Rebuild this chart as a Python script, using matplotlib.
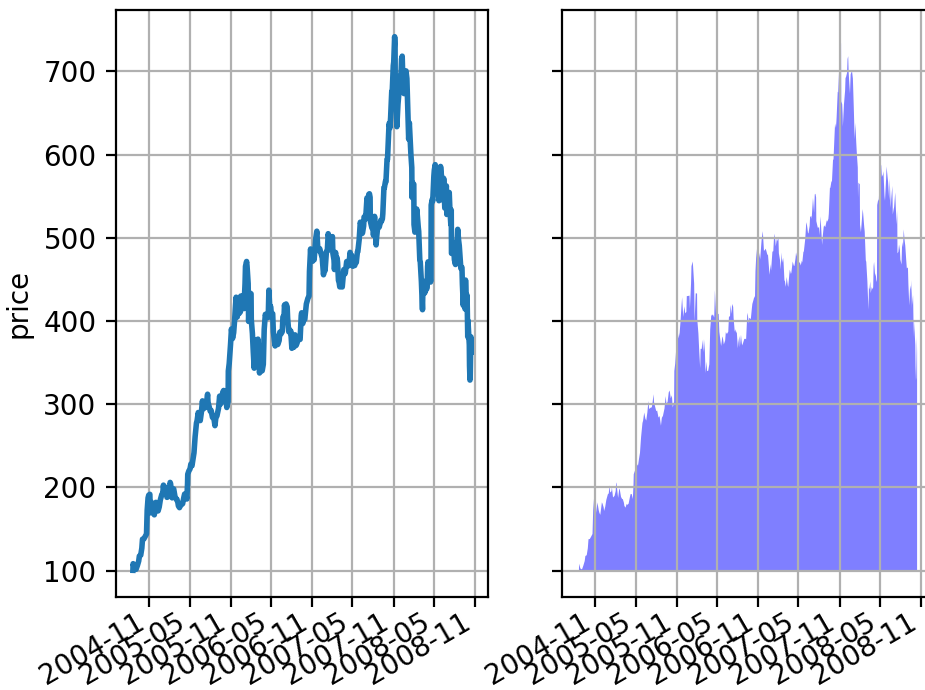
import numpy as np
import pandas as pd
import matplotlib
matplotlib.use("Agg")
from matplotlib import pyplot as plt
import matplotlib.dates as mdates

# Daily closing price (roughly twice a week)
dates = [
    "2004-08-19", "2004-08-20", "2004-08-24", "2004-08-27", "2004-09-02", "2004-09-08",
    "2004-09-14", "2004-09-17", "2004-09-23", "2004-09-28", "2004-10-01", "2004-10-07",
    "2004-10-13", "2004-10-19", "2004-10-22", "2004-10-26", "2004-10-29", "2004-11-03",
    "2004-11-05", "2004-11-10", "2004-11-16", "2004-11-19", "2004-11-23", "2004-11-30",
    "2004-12-03", "2004-12-08", "2004-12-10", "2004-12-15", "2004-12-20", "2004-12-27",
    "2004-12-31", "2005-01-03", "2005-01-06", "2005-01-12", "2005-01-14", "2005-01-19",
    "2005-01-21", "2005-01-26", "2005-01-31", "2005-02-02", "2005-02-04", "2005-02-09",
    "2005-02-11", "2005-02-16", "2005-02-18", "2005-02-24", "2005-03-01", "2005-03-04",
    "2005-03-09", "2005-03-11", "2005-03-16", "2005-03-21", "2005-03-24", "2005-03-30",
    "2005-04-05", "2005-04-08", "2005-04-13", "2005-04-18", "2005-04-21", "2005-04-22",
    "2005-04-27", "2005-05-02", "2005-05-06", "2005-05-11", "2005-05-16", "2005-05-20",
    "2005-05-25", "2005-05-31", "2005-06-03", "2005-06-08", "2005-06-13", "2005-06-17",
    "2005-06-22", "2005-06-27", "2005-06-30", "2005-07-06", "2005-07-12", "2005-07-15",
    "2005-07-20", "2005-07-22", "2005-07-27", "2005-08-01", "2005-08-05", "2005-08-11",
    "2005-08-16", "2005-08-22", "2005-08-26", "2005-08-31", "2005-09-07", "2005-09-12",
    "2005-09-16", "2005-09-21", "2005-09-26", "2005-09-30", "2005-10-05", "2005-10-10",
    "2005-10-14", "2005-10-20", "2005-10-21", "2005-10-25", "2005-10-31", "2005-11-04",
    "2005-11-09", "2005-11-14", "2005-11-18", "2005-11-22", "2005-11-25", "2005-11-30",
    "2005-12-05", "2005-12-09", "2005-12-14", "2005-12-16", "2005-12-21", "2005-12-28",
    "2005-12-30", "2006-01-04", "2006-01-06", "2006-01-11", "2006-01-13", "2006-01-18",
    "2006-01-20", "2006-01-25", "2006-01-27", "2006-01-31", "2006-02-01", "2006-02-06",
    "2006-02-10", "2006-02-14", "2006-02-16", "2006-02-21", "2006-02-24", "2006-02-28",
    "2006-03-03", "2006-03-07", "2006-03-10", "2006-03-14", "2006-03-17", "2006-03-22",
    "2006-03-27", "2006-03-31", "2006-04-05", "2006-04-07", "2006-04-12", "2006-04-18",
    "2006-04-21", "2006-04-26", "2006-04-28", "2006-05-03", "2006-05-08", "2006-05-11",
    "2006-05-16", "2006-05-19", "2006-05-24", "2006-05-26", "2006-05-31", "2006-06-06",
    "2006-06-09", "2006-06-14", "2006-06-20", "2006-06-23", "2006-06-28", "2006-06-30",
    "2006-07-05", "2006-07-07", "2006-07-12", "2006-07-14", "2006-07-19", "2006-07-21",
    "2006-07-26", "2006-07-28", "2006-08-02", "2006-08-04", "2006-08-09", "2006-08-11",
    "2006-08-16", "2006-08-21", "2006-08-25", "2006-08-31", "2006-09-06", "2006-09-08",
    "2006-09-13", "2006-09-15", "2006-09-20", "2006-09-22", "2006-09-27", "2006-09-29",
    "2006-10-04", "2006-10-06", "2006-10-11", "2006-10-13", "2006-10-18", "2006-10-20",
    "2006-10-25", "2006-10-27", "2006-10-31", "2006-11-03", "2006-11-08", "2006-11-10",
    "2006-11-15", "2006-11-17", "2006-11-22", "2006-11-27", "2006-11-30", "2006-12-05",
    "2006-12-08", "2006-12-13", "2006-12-15", "2006-12-20", "2006-12-22", "2006-12-27",
    "2006-12-29", "2007-01-04", "2007-01-08", "2007-01-12", "2007-01-17", "2007-01-19",
    "2007-01-24", "2007-01-26", "2007-01-31", "2007-02-02", "2007-02-07", "2007-02-09",
    "2007-02-14", "2007-02-16", "2007-02-21", "2007-02-23", "2007-02-27", "2007-03-01",
    "2007-03-05", "2007-03-09", "2007-03-14", "2007-03-16", "2007-03-21", "2007-03-23",
    "2007-03-28", "2007-03-30", "2007-04-05", "2007-04-10", "2007-04-13", "2007-04-18",
    "2007-04-20", "2007-04-24", "2007-04-27", "2007-05-02", "2007-05-04", "2007-05-09",
    "2007-05-11", "2007-05-16", "2007-05-18", "2007-05-23", "2007-05-25", "2007-05-31",
    "2007-06-05", "2007-06-08", "2007-06-13", "2007-06-15", "2007-06-20", "2007-06-22",
    "2007-06-27", "2007-06-29", "2007-07-05", "2007-07-10", "2007-07-13", "2007-07-16",
    "2007-07-19", "2007-07-20", "2007-07-25", "2007-07-27", "2007-08-01", "2007-08-03",
    "2007-08-08", "2007-08-10", "2007-08-15", "2007-08-17", "2007-08-22", "2007-08-24",
    "2007-08-29", "2007-08-31", "2007-09-05", "2007-09-07", "2007-09-12", "2007-09-14",
    "2007-09-19", "2007-09-21", "2007-09-26", "2007-09-28", "2007-10-03", "2007-10-05",
    "2007-10-10", "2007-10-12", "2007-10-16", "2007-10-18", "2007-10-19", "2007-10-24",
    "2007-10-26", "2007-10-31", "2007-11-02", "2007-11-06", "2007-11-08", "2007-11-09",
    "2007-11-13", "2007-11-15", "2007-11-16", "2007-11-21", "2007-11-26", "2007-11-28",
    "2007-11-30", "2007-12-05", "2007-12-07", "2007-12-10", "2007-12-12", "2007-12-14",
    "2007-12-18", "2007-12-20", "2007-12-21", "2007-12-27", "2007-12-31", "2008-01-04",
    "2008-01-08", "2008-01-11", "2008-01-15", "2008-01-18", "2008-01-22", "2008-01-23",
    "2008-01-25", "2008-01-31", "2008-02-01", "2008-02-05", "2008-02-08", "2008-02-13",
    "2008-02-15", "2008-02-20", "2008-02-22", "2008-02-27", "2008-02-29", "2008-03-05",
    "2008-03-07", "2008-03-10", "2008-03-12", "2008-03-14", "2008-03-18", "2008-03-20",
    "2008-03-25", "2008-03-28", "2008-03-31", "2008-04-02", "2008-04-04", "2008-04-09",
    "2008-04-11", "2008-04-15", "2008-04-17", "2008-04-18", "2008-04-23", "2008-04-25",
    "2008-04-30", "2008-05-02", "2008-05-06", "2008-05-09", "2008-05-14", "2008-05-16",
    "2008-05-21", "2008-05-23", "2008-05-28", "2008-05-30", "2008-06-04", "2008-06-06",
    "2008-06-11", "2008-06-13", "2008-06-18", "2008-06-20", "2008-06-25", "2008-06-27",
    "2008-07-01", "2008-07-03", "2008-07-08", "2008-07-11", "2008-07-15", "2008-07-17",
    "2008-07-18", "2008-07-22", "2008-07-25", "2008-07-29", "2008-07-31", "2008-08-05",
    "2008-08-08", "2008-08-12", "2008-08-15", "2008-08-19", "2008-08-22", "2008-08-26",
    "2008-08-29", "2008-09-03", "2008-09-05", "2008-09-09", "2008-09-12", "2008-09-16",
    "2008-09-17", "2008-09-19", "2008-09-23", "2008-09-26", "2008-09-29", "2008-09-30",
    "2008-10-02", "2008-10-03", "2008-10-06", "2008-10-07", "2008-10-09", "2008-10-10",
    "2008-10-13", "2008-10-14",
]
close = [
    100.3, 108.3, 104.0, 102.0, 101.5, 106.0,
    111.5, 117.5, 118.5, 126.9, 137.7, 138.0,
    140.9, 144.0, 172.4, 187.4, 190.6, 191.7,
    169.4, 182.0, 172.5, 169.4, 167.0, 182.0,
    180.4, 176.0, 171.7, 176.5, 185.0, 191.8,
    192.8, 202.7, 193.9, 195.4, 200.0, 188.0,
    188.3, 189.9, 195.6, 206.0, 204.4, 191.6,
    187.4, 198.4, 198.0, 188.5, 186.0, 185.9,
    181.4, 177.8, 175.6, 180.0, 179.0, 180.4,
    188.6, 192.0, 192.0, 186.0, 204.4, 215.8,
    219.8, 222.0, 228.0, 226.0, 235.0, 241.6,
    260.8, 277.3, 280.3, 290.0, 282.8, 280.3,
    290.0, 304.0, 294.2, 295.7, 296.3, 301.2,
    312.0, 302.4, 296.9, 291.6, 292.4, 284.0,
    285.7, 274.2, 283.6, 286.0, 294.9, 309.7,
    300.2, 303.0, 314.3, 316.5, 307.0, 310.7,
    296.0, 303.2, 339.9, 349.0, 372.1, 390.4,
    379.0, 386.0, 400.2, 417.7, 428.6, 404.9,
    417.7, 409.2, 411.0, 430.0, 430.0, 430.6,
    414.9, 445.2, 465.7, 471.6, 466.2, 444.9,
    399.5, 433.1, 433.5, 432.7, 401.8, 385.1,
    362.6, 343.3, 366.5, 366.6, 377.4, 362.6,
    378.2, 364.5, 337.5, 351.2, 339.8, 340.2,
    348.0, 390.0, 408.0, 406.2, 408.0, 404.2,
    437.1, 409.3, 417.9, 407.9, 408.8, 387.0,
    375.6, 370.0, 380.0, 381.4, 371.8, 376.6,
    386.6, 384.4, 387.2, 404.9, 406.0, 419.3,
    408.5, 420.5, 417.0, 403.5, 387.1, 390.1,
    385.5, 388.1, 367.2, 373.9, 382.0, 368.5,
    383.4, 370.6, 373.3, 378.5, 378.6, 377.9,
    406.6, 409.9, 397.0, 403.8, 402.9, 401.9,
    415.7, 420.5, 425.2, 427.3, 430.0, 459.7,
    486.6, 475.2, 476.4, 471.8, 482.0, 473.6,
    491.9, 498.8, 508.0, 484.8, 484.8, 487.0,
    484.1, 479.0, 480.3, 462.9, 455.6, 468.4,
    460.5, 483.3, 484.0, 505.0, 497.3, 489.8,
    499.1, 495.8, 501.5, 481.5, 473.5, 461.9,
    482.4, 469.9, 475.9, 470.6, 448.8, 448.2,
    441.0, 453.0, 443.0, 440.9, 456.6, 461.8,
    456.6, 458.2, 471.5, 466.5, 466.3, 476.0,
    482.5, 477.5, 479.0, 465.8, 471.1, 469.0,
    466.7, 472.6, 470.3, 483.1, 483.5, 497.9,
    518.8, 515.5, 505.2, 505.9, 514.3, 525.0,
    526.3, 522.7, 548.0, 530.4, 552.2, 553.0,
    548.6, 520.1, 514.0, 511.9, 512.9, 503.0,
    525.8, 515.8, 491.5, 500.0, 512.8, 515.0,
    512.9, 515.3, 521.1, 519.4, 522.7, 528.8,
    560.1, 560.1, 568.2, 567.3, 594.0, 594.0,
    625.4, 637.4, 632.1, 639.6, 644.7, 675.8,
    674.6, 707.0, 711.3, 741.8, 732.9, 664.0,
    660.6, 647.3, 633.6, 660.5, 676.7, 692.3,
    693.0, 698.5, 714.9, 718.4, 699.4, 690.0,
    673.4, 689.7, 696.7, 700.7, 691.5, 657.0,
    618.6, 638.3, 615.0, 600.3, 584.4, 548.6,
    566.4, 564.3, 515.9, 506.8, 516.7, 534.6,
    529.6, 512.8, 507.8, 472.9, 471.2, 447.7,
    433.4, 413.6, 440.2, 437.9, 447.6, 433.6,
    440.9, 438.1, 440.5, 465.7, 471.1, 454.0,
    457.5, 446.8, 449.5, 539.4, 546.5, 544.1,
    574.3, 581.3, 588.0, 573.2, 576.3, 580.1,
    550.0, 544.6, 571.2, 585.8, 572.2, 567.0,
    545.2, 571.5, 535.8, 546.4, 562.4, 528.1,
    534.7, 537.0, 554.5, 533.8, 516.1, 533.4,
    481.3, 483.1, 492.0, 485.3, 473.8, 467.9,
    495.0, 488.5, 510.2, 497.0, 490.6, 474.2,
    463.3, 464.4, 444.3, 418.7, 437.7, 442.9,
    414.5, 449.2, 419.3, 431.0, 381.0, 400.5,
    390.5, 386.9, 371.2, 346.0, 329.0, 332.0,
    381.0, 362.7,
]

date_vals = pd.to_datetime(dates)
price = np.array(close)
pricemin = price.min()

fig = plt.figure(figsize=(925 / 200, 690 / 200), dpi=200)

# two panels of equal width, the right one runs past the figure edge
ax1 = fig.add_axes([116 / 925, 93 / 690, 372 / 925, 587 / 690])
ax2 = fig.add_axes([562 / 925, 93 / 690, 372 / 925, 587 / 690], sharey=ax1)

ax1.plot(date_vals, price, lw=2)
ax2.fill_between(date_vals, pricemin, price, facecolor="blue", alpha=0.5)

for ax in (ax1, ax2):
    ax.grid(True)
    ax.xaxis.set_major_locator(mdates.MonthLocator(bymonth=[5, 11]))
    ax.xaxis.set_major_formatter(mdates.DateFormatter("%Y-%m"))
    ax.tick_params(axis="x", pad=0.5)
    for label in ax.get_xticklabels():
        label.set_rotation(30)
        label.set_horizontalalignment("right")

ax1.set_ylabel("price")
ax2.tick_params(axis="y", labelleft=False)

fig.savefig("out.png", dpi=200)
